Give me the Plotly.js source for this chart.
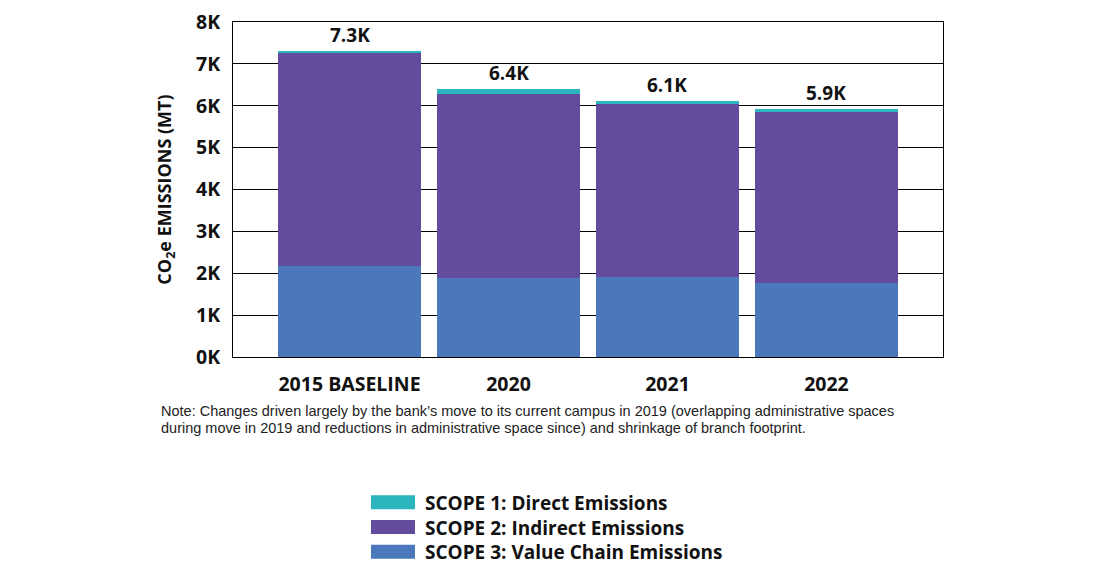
<!DOCTYPE html>
<html>
<head>
<meta charset="utf-8">
<script src="https://cdn.plot.ly/plotly-3.0.1.min.js"></script>
<style>
  html, body { margin: 0; padding: 0; background: #fff; }
  #chart { width: 1116px; height: 579px; }
</style>
</head>
<body>
<div id="chart"></div>
<script>
const categories = ["2015 BASELINE", "2020", "2021", "2022"];
const scope1 = [40, 130, 65, 75];
const scope2 = [5080, 4385, 4130, 4075];
const scope3 = [2180, 1890, 1915, 1770];
const seriesNames = ["SCOPE 1: Direct Emissions", "SCOPE 2: Indirect Emissions", "SCOPE 3: Value Chain Emissions"];
const seriesColors = ["#2bb5bd", "#634b9e", "#4a78bb"];
const yTickVals = [0, 1000, 2000, 3000, 4000, 5000, 6000, 7000, 8000];
const yTickText = ["0K", "1K", "2K", "3K", "4K", "5K", "6K", "7K", "8K"];
const noteLines = [
  "Note: Changes driven largely by the bank\u2019s move to its current campus in 2019 (overlapping administrative spaces",
  "during move in 2019 and reductions in administrative space since) and shrinkage of branch footprint."
];

const FONT = "'Open Sans', Lato, sans-serif";
const totals = categories.map((c, i) => scope1[i] + scope2[i] + scope3[i]);

const traces = [
  { name: seriesNames[2], y: scope3, color: seriesColors[2] },
  { name: seriesNames[1], y: scope2, color: seriesColors[1] },
  { name: seriesNames[0], y: scope1, color: seriesColors[0] }
].map(s => ({
  type: "bar",
  x: categories,
  y: s.y,
  name: s.name,
  marker: { color: s.color, line: { width: 0 } },
  showlegend: false,
  hoverinfo: "skip"
}));

const W = 1116, H = 579;
const M = { l: 233, r: 173, t: 22, b: 222 };
const pw = W - M.l - M.r, ph = H - M.t - M.b;
const toPX = px => (px - M.l) / pw;
const toPY = py => (H - M.b - py) / ph;

const annotations = categories.map((c, i) => ({
  x: i, y: totals[i], xref: "x", yref: "y",
  text: "<b>" + (totals[i] / 1000).toFixed(1) + "K</b>",
  showarrow: false, yanchor: "middle", yshift: 16,
  font: { family: FONT, size: 19, color: "#111" }
}));

noteLines.forEach((t, i) => {
  annotations.push({
    x: toPX(159), y: toPY(411 + i * 17), xref: "paper", yref: "paper",
    text: t, showarrow: false, xanchor: "left", yanchor: "middle", align: "left",
    font: { family: "'Liberation Sans', Arial, sans-serif", size: 14.5, color: "#222" }
  });
});

// custom legend (wide swatches) - one text block, one swatch per line
const legendFont = 19;
const lineH = legendFont * 1.3;
const legendMid = 527;
const shapes = [];
seriesNames.forEach((n, i) => {
  const yc = legendMid + (i - 1) * lineH;
  shapes.push({
    type: "rect", xref: "paper", yref: "paper",
    x0: toPX(371), x1: toPX(415), y0: toPY(yc + 7), y1: toPY(yc - 7),
    fillcolor: seriesColors[i], line: { width: 0 }
  });
});
annotations.push({
  xref: "paper", yref: "paper", x: toPX(423), y: toPY(legendMid),
  text: seriesNames.map(n => "<b>" + n + "</b>").join("<br>"),
  showarrow: false, xanchor: "left", yanchor: "middle", align: "left",
  font: { family: FONT, size: legendFont, color: "#111" }
});

const layout = {
  width: W, height: H,
  margin: M,
  barmode: "stack",
  bargap: 0.1,
  paper_bgcolor: "#fff", plot_bgcolor: "#fff",
  font: { family: FONT, color: "#111" },
  xaxis: {
    type: "category",
    range: [-0.733, 3.733],
    showgrid: false, zeroline: false,
    showline: true, linecolor: "#000", linewidth: 1, mirror: true,
    ticks: "", ticklabelstandoff: 10,
    tickfont: { family: FONT, size: 19.5, color: "#111", weight: "bold" },
    fixedrange: true
  },
  yaxis: {
    range: [0, 8000],
    tickvals: yTickVals, ticktext: yTickText,
    showgrid: true, gridcolor: "#000", gridwidth: 1,
    zeroline: false,
    showline: true, linecolor: "#000", linewidth: 1, mirror: true,
    ticks: "", ticklabelstandoff: 8,
    tickfont: { family: FONT, size: 19.5, color: "#111", weight: "bold" },
    title: {
      text: "<b>CO<sub>2</sub>e EMISSIONS (MT)</b>",
      font: { family: FONT, size: 18, color: "#111" },
      standoff: 19
    },
    fixedrange: true
  },
  annotations: annotations,
  shapes: shapes
};

Plotly.newPlot("chart", traces, layout, { displayModeBar: false, staticPlot: true });
</script>
</body>
</html>
